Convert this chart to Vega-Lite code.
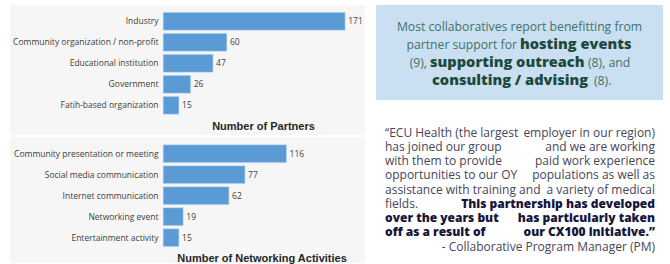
{
  "$schema": "https://vega.github.io/schema/vega-lite/v6.json",
  "padding": {"left": 10, "top": 5, "right": 0, "bottom": 0},
  "background": "white",
  "spacing": 11,
  "bounds": "full",
  "config": {"view": {"stroke": null}},
  "datasets": {
    "partners": [
      {"type": "Industry", "count": 171},
      {"type": "Community organization / non-profit", "count": 60},
      {"type": "Educational institution", "count": 47},
      {"type": "Government", "count": 26},
      {"type": "Fatih-based organization", "count": 15}
    ],
    "activities": [
      {"type": "Community presentation or meeting", "count": 116},
      {"type": "Social media communication", "count": 77},
      {"type": "Internet communication", "count": 62},
      {"type": "Networking event", "count": 19},
      {"type": "Entertainment activity", "count": 15}
    ],
    "callout": [
      {"seg": "a", "line": 1, "text": "Most collaboratives report benefitting from"},
      {"seg": "b", "line": 2, "text": "partner support for"},
      {"seg": "c", "line": 2, "text": "hosting events"},
      {"seg": "d", "line": 3, "text": "(9),"},
      {"seg": "e", "line": 3, "text": "supporting outreach"},
      {"seg": "f", "line": 3, "text": "(8), and"},
      {"seg": "g", "line": 4, "text": "consulting / advising"},
      {"seg": "h", "line": 4, "text": "(8)."}
    ],
    "quoteRegular": [
      {"line": 1, "side": "left", "text": "“ECU Health (the largest"},
      {"line": 1, "side": "right", "text": "employer in our region)"},
      {"line": 2, "side": "left", "text": "has joined our group"},
      {"line": 2, "side": "right", "text": "and we are working"},
      {"line": 3, "side": "left", "text": "with them to provide"},
      {"line": 3, "side": "right", "text": "paid work experience"},
      {"line": 4, "side": "left", "text": "opportunities to our OY"},
      {"line": 4, "side": "right", "text": "populations as well as"},
      {"line": 5, "side": "left", "text": "assistance with training and"},
      {"line": 5, "side": "right", "text": "a variety of medical"},
      {"line": 6, "side": "left", "text": "fields."},
      {"line": 9, "side": "right", "text": "- Collaborative  Program Manager (PM)"}
    ],
    "quoteBold": [
      {"line": 6, "side": "right", "text": "This partnership has developed"},
      {"line": 7, "side": "left", "text": "over the years but"},
      {"line": 7, "side": "right", "text": "has particularly taken"},
      {"line": 8, "side": "left", "text": "off as a result of"},
      {"line": 8, "side": "right", "text": "our CX100 initiative.”"}
    ]
  },
  "hconcat": [
    {
      "vconcat": [
        {
          "width": 355,
          "height": 130,
          "view": {"fill": "#f6f6f6", "stroke": null},
          "data": {"name": "partners"},
          "encoding": {
            "y": {"field": "type", "type": "nominal", "sort": null,
              "scale": {"paddingInner": 0.14, "paddingOuter": 0.665, "align": 0.26},
              "axis": {"title": null, "offset": -153, "domain": false, "ticks": false, "labelPadding": 5, "labelFont": "Open Sans", "labelFontSize": 8.5, "labelColor": "#404040", "labelLimit": 200}},
            "x": {"field": "count", "type": "quantitative",
              "scale": {"domain": [-143.7, 189.6], "nice": false, "zero": false},
              "axis": {"labels": false, "ticks": false, "domain": false, "grid": false, "title": "Number of Partners", "titleFont": "Liberation Sans", "titleFontSize": 11, "titleFontWeight": "bold", "titleColor": "#262626", "titleX": 253, "titleY": -9, "titleAlign": "center", "titleBaseline": "middle", "titleAnchor": null}}
          },
          "layer": [
            {"mark": {"type": "bar", "color": "#5b9bd5", "stroke": "#d4e4f4", "strokeWidth": 0.7}},
            {"mark": {"type": "text", "align": "left", "dx": 3, "font": "Open Sans", "fontSize": 8.5, "color": "#404040"}, "encoding": {"text": {"field": "count", "type": "quantitative"}}}
          ]
        },
        {
          "width": 355,
          "height": 126,
          "view": {"fill": "#f6f6f6", "stroke": null},
          "data": {"name": "activities"},
          "encoding": {
            "y": {"field": "type", "type": "nominal", "sort": null,
              "scale": {"paddingInner": 0.14, "paddingOuter": 0.57, "align": 0.32},
              "axis": {"title": null, "offset": -153, "domain": false, "ticks": false, "labelPadding": 5, "labelFont": "Open Sans", "labelFontSize": 8.5, "labelColor": "#404040", "labelLimit": 200}},
            "x": {"field": "count", "type": "quantitative",
              "scale": {"domain": [-143.7, 189.6], "nice": false, "zero": false},
              "axis": {"labels": false, "ticks": false, "domain": false, "grid": false, "title": "Number of Networking Activities", "titleFont": "Liberation Sans", "titleFontSize": 11, "titleFontWeight": "bold", "titleColor": "#262626", "titleX": 251.5, "titleY": -4.7, "titleAlign": "center", "titleBaseline": "middle", "titleAnchor": null}}
          },
          "layer": [
            {"mark": {"type": "bar", "color": "#5b9bd5", "stroke": "#d4e4f4", "strokeWidth": 0.7}},
            {"mark": {"type": "text", "align": "left", "dx": 3, "font": "Open Sans", "fontSize": 8.5, "color": "#404040"}, "encoding": {"text": {"field": "count", "type": "quantitative"}}}
          ]
        }
      ],
      "spacing": 2,
      "bounds": "flush"
    },
    {
      "vconcat": [
        {
          "width": 287,
          "height": 95,
          "view": {"fill": "#cbdff2", "stroke": null},
          "data": {"name": "callout"},
          "encoding": {
            "y": {"field": "line", "type": "quantitative", "scale": {"domain": [-0.42, 4.829], "reverse": true, "nice": false, "zero": false}, "axis": null},
            "text": {"field": "text"}
          },
          "layer": [
            {"transform": [{"filter": "datum.seg == 'a'"}], "mark": {"type": "text", "align": "center", "baseline": "alphabetic", "font": "Open Sans", "fontSize": 12.2, "color": "#3b7566"}, "encoding": {"x": {"datum": 143.5, "type": "quantitative", "scale": {"domain": [0, 287], "nice": false, "zero": false}, "axis": null}}},
            {"transform": [{"filter": "datum.seg == 'b'"}], "mark": {"type": "text", "align": "right", "baseline": "alphabetic", "font": "Open Sans", "fontSize": 12.2, "color": "#3b7566"}, "encoding": {"x": {"datum": 141, "type": "quantitative"}}},
            {"transform": [{"filter": "datum.seg == 'c'"}], "mark": {"type": "text", "align": "left", "baseline": "alphabetic", "font": "Open Sans", "fontSize": 14.6, "fontWeight": 800, "color": "#1d4a3b"}, "encoding": {"x": {"datum": 144, "type": "quantitative"}}},
            {"transform": [{"filter": "datum.seg == 'd'"}], "mark": {"type": "text", "align": "right", "baseline": "alphabetic", "font": "Open Sans", "fontSize": 12.2, "color": "#3b7566"}, "encoding": {"x": {"datum": 51, "type": "quantitative"}}},
            {"transform": [{"filter": "datum.seg == 'e'"}], "mark": {"type": "text", "align": "left", "baseline": "alphabetic", "font": "Open Sans", "fontSize": 14.6, "fontWeight": 800, "color": "#1d4a3b"}, "encoding": {"x": {"datum": 54, "type": "quantitative"}}},
            {"transform": [{"filter": "datum.seg == 'f'"}], "mark": {"type": "text", "align": "left", "baseline": "alphabetic", "font": "Open Sans", "fontSize": 12.2, "color": "#3b7566"}, "encoding": {"x": {"datum": 212, "type": "quantitative"}}},
            {"transform": [{"filter": "datum.seg == 'g'"}], "mark": {"type": "text", "align": "left", "baseline": "alphabetic", "font": "Open Sans", "fontSize": 14.6, "fontWeight": 800, "color": "#1d4a3b"}, "encoding": {"x": {"datum": 56, "type": "quantitative"}}},
            {"transform": [{"filter": "datum.seg == 'h'"}], "mark": {"type": "text", "align": "left", "baseline": "alphabetic", "font": "Open Sans", "fontSize": 12.2, "color": "#3b7566"}, "encoding": {"x": {"datum": 218, "type": "quantitative"}}}
          ]
        },
        {
          "width": 287,
          "height": 159,
          "encoding": {
            "y": {"field": "line", "type": "quantitative", "scale": {"domain": [-1.225, 9.933], "reverse": true, "nice": false, "zero": false}, "axis": null},
            "text": {"field": "text"}
          },
          "layer": [
            {"data": {"name": "quoteRegular"}, "transform": [{"filter": "datum.side == 'left'"}], "mark": {"type": "text", "align": "left", "baseline": "alphabetic", "font": "Open Sans", "fontSize": 12, "color": "#45455a"}, "encoding": {"x": {"datum": 9, "type": "quantitative", "scale": {"domain": [0, 287], "nice": false, "zero": false}, "axis": null}}},
            {"data": {"name": "quoteRegular"}, "transform": [{"filter": "datum.side == 'right'"}], "mark": {"type": "text", "align": "right", "baseline": "alphabetic", "font": "Open Sans", "fontSize": 12, "color": "#45455a"}, "encoding": {"x": {"datum": 279, "type": "quantitative"}}},
            {"data": {"name": "quoteBold"}, "transform": [{"filter": "datum.side == 'left'"}], "mark": {"type": "text", "align": "left", "baseline": "alphabetic", "font": "Open Sans", "fontSize": 12, "fontWeight": 800, "color": "#16163a"}, "encoding": {"x": {"datum": 9, "type": "quantitative"}}},
            {"data": {"name": "quoteBold"}, "transform": [{"filter": "datum.side == 'right'"}], "mark": {"type": "text", "align": "right", "baseline": "alphabetic", "font": "Open Sans", "fontSize": 12, "fontWeight": 800, "color": "#16163a"}, "encoding": {"x": {"datum": 279, "type": "quantitative"}}}
          ]
        }
      ],
      "spacing": 5,
      "bounds": "flush"
    }
  ]
}
